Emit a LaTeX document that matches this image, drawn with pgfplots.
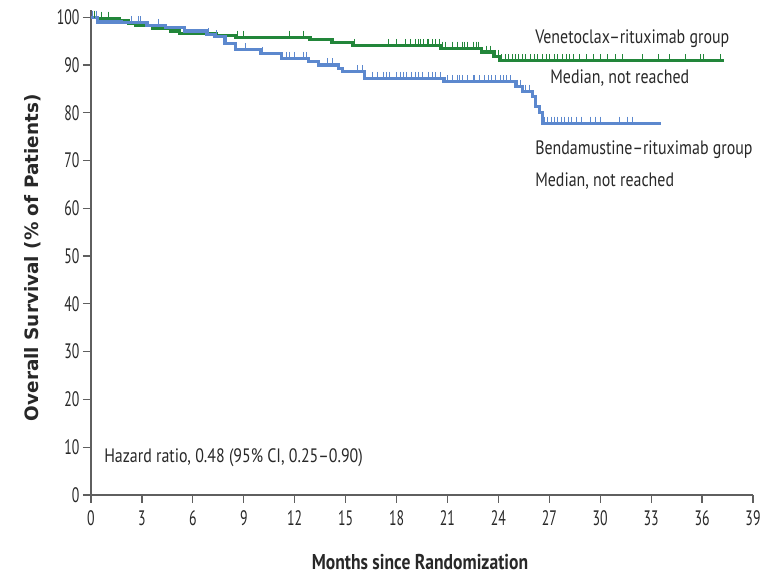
\documentclass[border=0pt]{standalone}
\usepackage{fontspec}
\setmainfont{PT Sans}[FakeStretch=0.82]
\newfontfamily\tickfont{PT Sans}[FakeStretch=0.66]
\newfontfamily\ylabfont{DejaVu Sans}
\usepackage{pgfplots}
\pgfplotsset{compat=1.18}
\definecolor{vgreen}{RGB}{34,134,58}
\definecolor{bblue}{RGB}{92,136,206}
\definecolor{axgray}{RGB}{95,95,95}
\definecolor{txt}{RGB}{40,40,40}
\newcommand{\tickfmt}[1]{\tickfont\fontsize{21}{21}\selectfont #1}
\begin{document}
\begin{tikzpicture}
\useasboundingbox (0,0) rectangle (760bp,575bp);
\begin{axis}[
  at={(91bp,80bp)}, anchor=south west,
  width=662bp, height=485bp, scale only axis,
  xmin=0, xmax=39, ymin=0, ymax=101.5,
  axis lines*=left,
  axis line style={axgray, line width=1.2bp},
  xtick={0,3,...,39}, ytick={0,10,...,100},
  tick align=outside, major tick length=8bp,
  tick style={axgray, line width=1.2bp},
  xticklabel={\tickfmt{\pgfmathprintnumber{\tick}}},
  yticklabel={\tickfmt{\pgfmathprintnumber{\tick}}},
  tick label style={text=txt},
  xticklabel style={yshift=-4bp},
  /pgf/number format/assume math mode=true,
  xlabel={\bfseries Months since Randomization},
  xlabel style={at={(axis description cs:0.497,-0.138)}, anchor=center, font=\fontsize{21.5}{21.5}\selectfont, text=txt},
  ylabel={\ylabfont\bfseries Overall Survival (\% of Patients)},
  ylabel style={at={(axis description cs:-0.0876,0.489)}, anchor=center, font=\fontsize{18.5}{18.5}\selectfont, text=txt},
  clip=false,
]
% Venetoclax-rituximab
\addplot[const plot, vgreen, line width=3.2bp] coordinates {
(0,100) (0.4,99.8) (1.7,99.2) (2.2,98.7) (2.6,98.2) (3.6,97.6) (4.7,97.1) (5.2,96.6) (7.4,96.1) (8.5,95.8) (12.9,95.3) (14.2,94.7) (15.4,94.1) (20.6,93.5) (23.0,92.7) (23.7,91.8) (24.1,90.9) (37.3,90.9)
};
% Bendamustine-rituximab
\addplot[const plot, bblue, line width=3.2bp] coordinates {
(0,100) (0.4,99.0) (1.8,98.8) (3.3,98.3) (4.4,97.8) (5.5,97.1) (6.8,96.4) (7.3,95.9) (7.9,94.5) (8.5,93.2) (10.0,92.4) (11.2,91.4) (12.8,90.7) (13.4,90.0) (14.6,89.3) (14.8,88.6) (16.1,87.2) (20.8,86.5) (25.0,85.5) (25.4,84.5) (26.0,83.4) (26.2,81.3) (26.4,80.0) (26.6,77.8) (33.6,77.8)
};
% censor marks green
\addplot[only marks, mark=|, mark size=3.5bp, vgreen, mark options={line width=0.8bp, yshift=3bp}] coordinates {
(0.2,100) (0.6,99.8) (1.0,99.8) (8.6,95.8) (9.0,95.8) (11.7,95.8) (12.5,95.8) (15.5,94.1)
(17.5,94.1) (18.0,94.1) (18.5,94.1) (18.8,94.1) (19.1,94.1) (19.3,94.1) (19.4,94.1) (19.6,94.1) (19.8,94.1) (19.9,94.1) (20.1,94.1) (20.3,94.1) (20.5,94.1)
(20.7,93.5) (20.9,93.5) (21.3,93.5) (21.6,93.5) (21.9,93.5) (22.0,93.5) (22.2,93.5) (22.5,93.5) (22.7,93.5) (22.8,93.5)
(23.3,92.7) (23.5,92.7) (23.8,91.8) (24.0,91.8)
(24.2,90.9) (24.4,90.9) (24.6,90.9) (24.8,90.9) (25.0,90.9) (25.2,90.9) (25.4,90.9) (25.6,90.9) (25.9,90.9) (26.1,90.9) (26.3,90.9) (26.6,90.9) (26.8,90.9) (27.0,90.9) (27.3,90.9) (27.5,90.9) (27.8,90.9) (28.0,90.9) (28.2,90.9) (28.4,90.9) (28.8,90.9) (29.2,90.9) (29.6,90.9) (30.0,90.9) (30.4,90.9) (30.9,90.9) (31.3,90.9) (32.5,90.9) (33.4,90.9) (34.1,90.9) (35.0,90.9) (35.9,90.9) (36.1,90.9) (37.1,90.9)
};
% censor marks blue
\addplot[only marks, mark=|, mark size=3.5bp, bblue, mark options={line width=0.8bp, yshift=3bp}] coordinates {
(0.1,100) (0.3,100) (2.4,98.8) (2.8,98.8) (2.9,98.8) (4.0,98.3) (6.9,96.4) (7.4,95.9) (9.1,93.2) (10.1,92.4)
(11.5,91.4) (11.7,91.4) (12.0,91.4) (12.5,91.4) (12.7,91.4) (13.9,90.0) (14.2,90.0) (15.7,88.6) (16.0,88.6)
(16.6,87.2) (16.9,87.2) (17.2,87.2) (17.4,87.2) (17.6,87.2) (18.0,87.2) (18.2,87.2) (18.4,87.2) (18.6,87.2) (18.9,87.2) (19.1,87.2) (19.3,87.2) (19.5,87.2) (19.9,87.2) (20.1,87.2) (20.3,87.2) (20.6,87.2)
(21.0,86.5) (21.3,86.5) (21.6,86.5) (21.7,86.5) (21.9,86.5) (22.2,86.5) (22.5,86.5) (22.6,86.5) (22.9,86.5) (23.2,86.5) (23.4,86.5) (23.6,86.5) (23.8,86.5) (24.1,86.5) (24.3,86.5) (24.5,86.5) (24.7,86.5)
(25.1,85.5) (25.3,85.5) (25.6,84.5) (25.8,84.5)
(26.7,77.8) (26.9,77.8) (27.1,77.8) (27.3,77.8) (27.5,77.8) (27.7,77.8) (27.9,77.8) (28.1,77.8) (28.3,77.8) (28.6,77.8) (28.9,77.8) (29.4,77.8) (29.7,77.8) (30.0,77.8) (31.1,77.8) (31.6,77.8) (31.9,77.8)
};
\node[anchor=west, inner sep=0pt, text=txt, font=\fontsize{19.5}{19.5}\selectfont] at (axis cs:26.16,95.6) {Venetoclax–rituximab group};
\node[anchor=west, inner sep=0pt, text=txt, font=\fontsize{19.5}{19.5}\selectfont] at (axis cs:27.05,87.2) {Median, not reached};
\node[anchor=west, inner sep=0pt, text=txt, font=\fontsize{19.5}{19.5}\selectfont] at (axis cs:26.16,72.2) {Bendamustine–rituximab group};
\node[anchor=west, inner sep=0pt, text=txt, font=\fontsize{19.5}{19.5}\selectfont] at (axis cs:26.16,65.7) {Median, not reached};
\node[anchor=west, inner sep=0pt, text=txt, font=\fontsize{19.5}{19.5}\selectfont] at (axis cs:0.77,7.7) {Hazard ratio, 0.48 (95\% CI, 0.25–0.90)};
\end{axis}
\end{tikzpicture}
\end{document}
